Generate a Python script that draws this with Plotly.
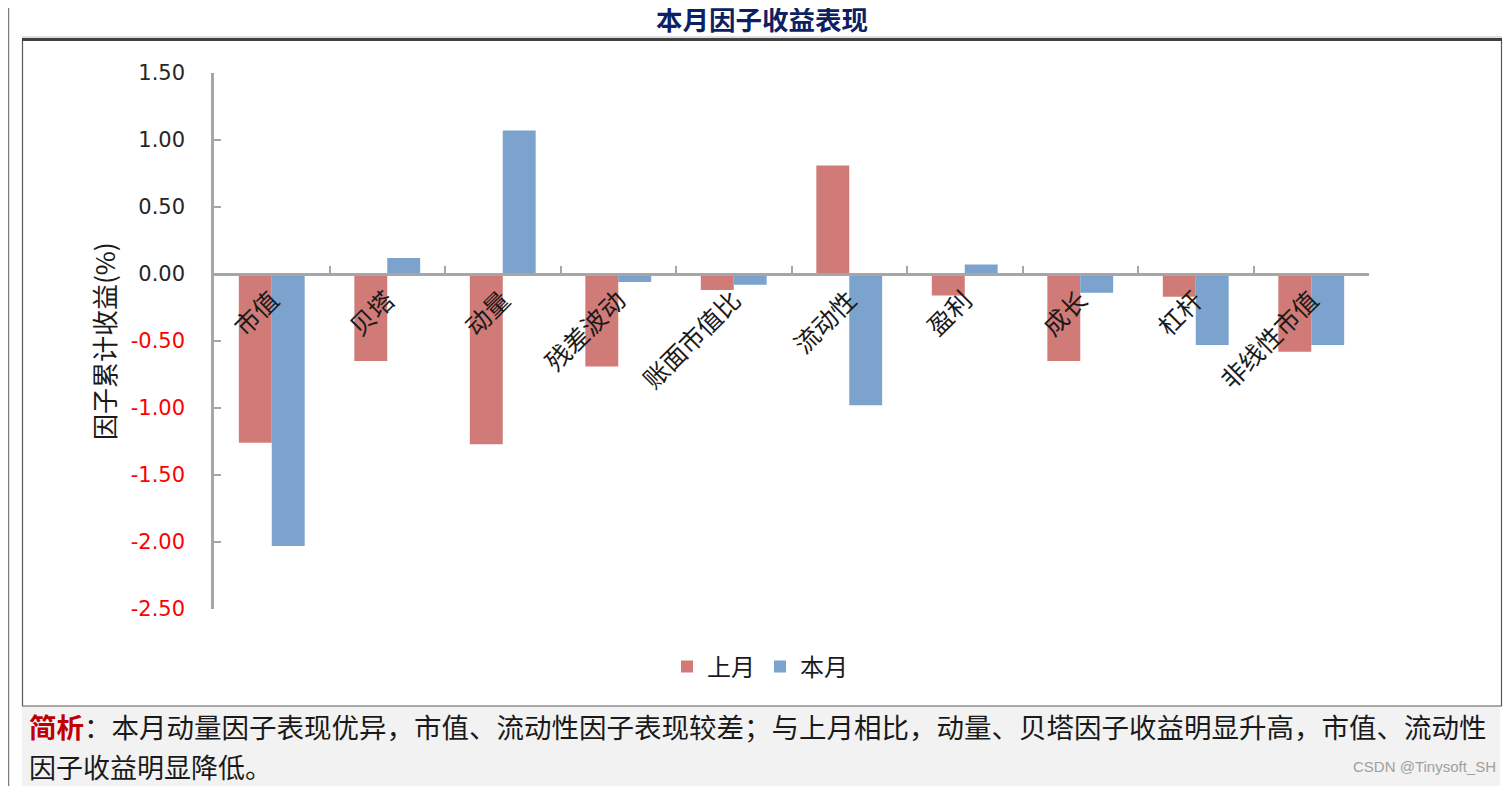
import plotly.graph_objects as go

# ---- data ----
categories = ["市值", "贝塔", "动量", "残差波动", "账面市值比", "流动性", "盈利", "成长", "杠杆", "非线性市值"]
last_month = [-1.26, -0.65, -1.27, -0.69, -0.12, 0.81, -0.16, -0.65, -0.17, -0.58]
this_month = [-2.03, 0.12, 1.07, -0.06, -0.08, -0.98, 0.07, -0.14, -0.53, -0.53]
series_names = ["上月", "本月"]
y_ticks = [1.5, 1.0, 0.5, 0.0, -0.5, -1.0, -1.5, -2.0, -2.5]
title_text = "本月因子收益表现"
y_title = "因子累计收益(%)"
note_head = "简析"
note_line1 = "：本月动量因子表现优异，市值、流动性因子表现较差；与上月相比，动量、贝塔因子收益明显升高，市值、流动性"
note_line2 = "因子收益明显降低。"
watermark = "CSDN @Tinysoft_SH"

# page places the figure 8px in from the top-left corner
OFF = 8
W, H = 1504, 778
CJK = "Noto Sans CJK SC"
NUM = "DejaVu Sans"

def px(x):
    return (x - OFF) / W

def py(y):
    return 1 - (y - OFF) / H

x_dom = [px(214), px(1369)]
y_dom = [py(609), py(73)]
y_range = [-2.5, 1.5]
zero_pos = y_dom[0] + (0 - y_range[0]) / (y_range[1] - y_range[0]) * (y_dom[1] - y_dom[0])

tick_text = []
for v in y_ticks:
    s = f"{v:.2f}"
    if v < 0:
        tick_text.append(f"<span style='color:#FF0000'>{s}</span>")
    else:
        tick_text.append(s)

fig = go.Figure()
fig.add_trace(go.Bar(x=categories, y=last_month, name=series_names[0],
                     marker=dict(color="#D07B78", line=dict(width=0))))
fig.add_trace(go.Bar(x=categories, y=this_month, name=series_names[1],
                     marker=dict(color="#7BA3CD", line=dict(width=0))))

axis_gray = "#A6A6A6"
fig.update_layout(
    width=W, height=H, autosize=False,
    margin=dict(l=0, r=0, t=0, b=0, pad=0, autoexpand=False),
    paper_bgcolor="white", plot_bgcolor="white",
    barmode="group", bargap=0.43, bargroupgap=0,
    font=dict(family=CJK, color="#1A1A1A"),
    xaxis=dict(domain=x_dom, anchor="free", position=zero_pos, automargin=False,
               showline=True, linecolor=axis_gray, linewidth=2.5,
               ticks="inside", tickson="boundaries", ticklen=7, tickwidth=2, tickcolor=axis_gray,
               tickangle=-45, tickfont=dict(family=CJK, size=25, color="#1A1A1A"),
               showgrid=False, zeroline=False),
    yaxis=dict(domain=y_dom, range=y_range, tickvals=y_ticks, ticktext=tick_text, automargin=False,
               showline=True, linecolor=axis_gray, linewidth=2.5,
               ticks="inside", ticklen=7, tickwidth=2, tickcolor=axis_gray,
               ticklabelstandoff=22,
               tickfont=dict(family=NUM, size=21, color="#262626"),
               showgrid=False, zeroline=False),
    legend=dict(orientation="h", xref="container", yref="container",
                x=px(760), xanchor="center", y=py(667), yanchor="middle",
                font=dict(family=CJK, size=24, color="#1A1A1A"), bgcolor="rgba(0,0,0,0)",
                itemwidth=30, traceorder="normal"),
    showlegend=True,
)

shapes = [
    # gray note box
    dict(type="rect", xref="paper", yref="paper", x0=px(22), x1=px(1500), y0=py(790), y1=py(706),
         fillcolor="#F2F2F2", line=dict(width=0), layer="below"),
    # chart frame
    dict(type="rect", xref="paper", yref="paper", x0=px(22.5), x1=px(1501.5), y0=py(706), y1=py(40),
         fillcolor="rgba(0,0,0,0)", line=dict(color="#595959", width=1.2), layer="above"),
    # thick top border
    dict(type="line", xref="paper", yref="paper", x0=px(22), x1=px(1502), y0=py(39.5), y1=py(39.5),
         line=dict(color="#404040", width=3)),
    dict(type="line", xref="paper", yref="paper", x0=px(22), x1=px(1502), y0=py(37), y1=py(37),
         line=dict(color="#BFBFBF", width=1)),
    # outer left line
    dict(type="line", xref="paper", yref="paper", x0=px(8.5), x1=px(8.5), y0=0, y1=1,
         line=dict(color="#7F7F7F", width=1.5)),
]
fig.update_layout(shapes=shapes)

annotations = [
    dict(text=f"<b>{title_text}</b>", x=px(762), y=py(19), xref="paper", yref="paper",
         showarrow=False, xanchor="center", yanchor="middle",
         font=dict(family=CJK, size=26.5, color="#0E1F63")),
    dict(text=y_title, x=px(104), y=py(341), xref="paper", yref="paper", textangle=-90,
         showarrow=False, xanchor="center", yanchor="middle",
         font=dict(family=CJK, size=26, color="#1A1A1A")),
    dict(text=f"<b><span style='color:#C00000'>{note_head}</span></b>{note_line1}",
         x=px(27), y=py(726), xref="paper", yref="paper", showarrow=False,
         xanchor="left", yanchor="middle", align="left",
         font=dict(family=CJK, size=27.5, color="#1A1A1A")),
    dict(text=note_line2, x=px(27), y=py(766), xref="paper", yref="paper", showarrow=False,
         xanchor="left", yanchor="middle", align="left",
         font=dict(family=CJK, size=27, color="#1A1A1A")),
    dict(text=watermark, x=px(1498), y=py(766), xref="paper", yref="paper", showarrow=False,
         xanchor="right", yanchor="middle",
         font=dict(family="Liberation Sans", size=15, color="#A0A0A0")),
]
fig.update_layout(annotations=annotations)

fig.write_html("out.html")
